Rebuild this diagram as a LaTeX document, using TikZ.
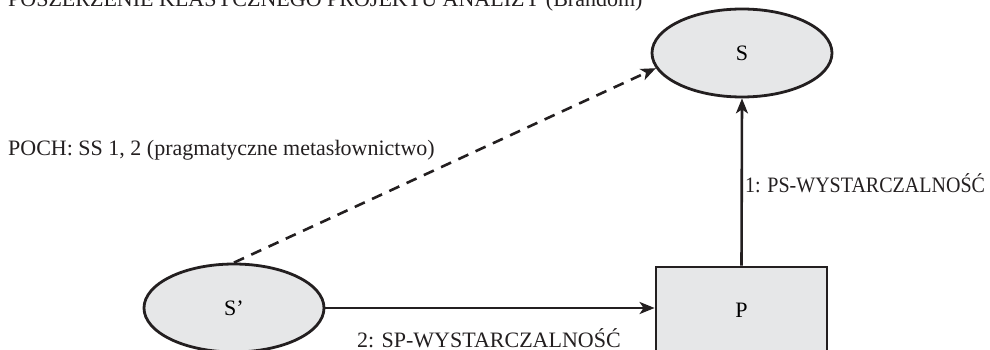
\documentclass[tikz,border=0pt]{standalone}
\usepackage{fontspec}
\setmainfont{Liberation Serif}
\usetikzlibrary{arrows.meta,shapes.geometric}
\definecolor{ink}{HTML}{231F20}
\definecolor{shade}{HTML}{E6E7E8}
\tikzset{
  nodeshape/.style={draw=ink, fill=shade, line width=2.8pt, inner sep=0pt},
  ell/.style={nodeshape, ellipse, minimum width=180pt, minimum height=88pt},
  box/.style={nodeshape, rectangle, minimum width=171pt, minimum height=86pt},
  conn/.style={draw=ink, line width=2.6pt, -{Stealth[length=15pt,width=12pt,inset=4pt]}},
  dconn/.style={conn, dash pattern=on 11pt off 8pt},
  lbl/.style={anchor=base west, inner sep=0pt, text=ink, font=\fontsize{22}{26}\selectfont},
}
\begin{document}
\begin{tikzpicture}[x=1pt, y=-1pt]
\useasboundingbox (0,0) rectangle (990,350);
\node[ell] (S) at (742,53) {\fontsize{22}{26}\selectfont S};
\node[ell] (Sp) at (234,308) {\fontsize{22}{26}\selectfont S’};
\node[box] (P) at (741.5,310) {\fontsize{22}{26}\selectfont P};
\draw[conn] (P.north) -- (S.south);
\draw[conn] (Sp.east) -- (Sp.east -| P.west);
\draw[dconn] (Sp.north) -- (S.190);
\node[lbl] (title) at (8,7) {POSZERZENIE KLASYCZNEGO PROJEKTU ANALIZY (Brandom)};
\node[lbl] (poch) at (8,155) {POCH: SS 1, 2 (pragmatyczne metasłownictwo)};
\node[lbl] (ps) at (745,192) {\scalebox{0.91}[1]{1: PS-WYSTARCZALNOŚĆ}};
\node[lbl] (sp) at (357,347) {2: SP-WYSTARCZALNOŚĆ};
\end{tikzpicture}
\end{document}
